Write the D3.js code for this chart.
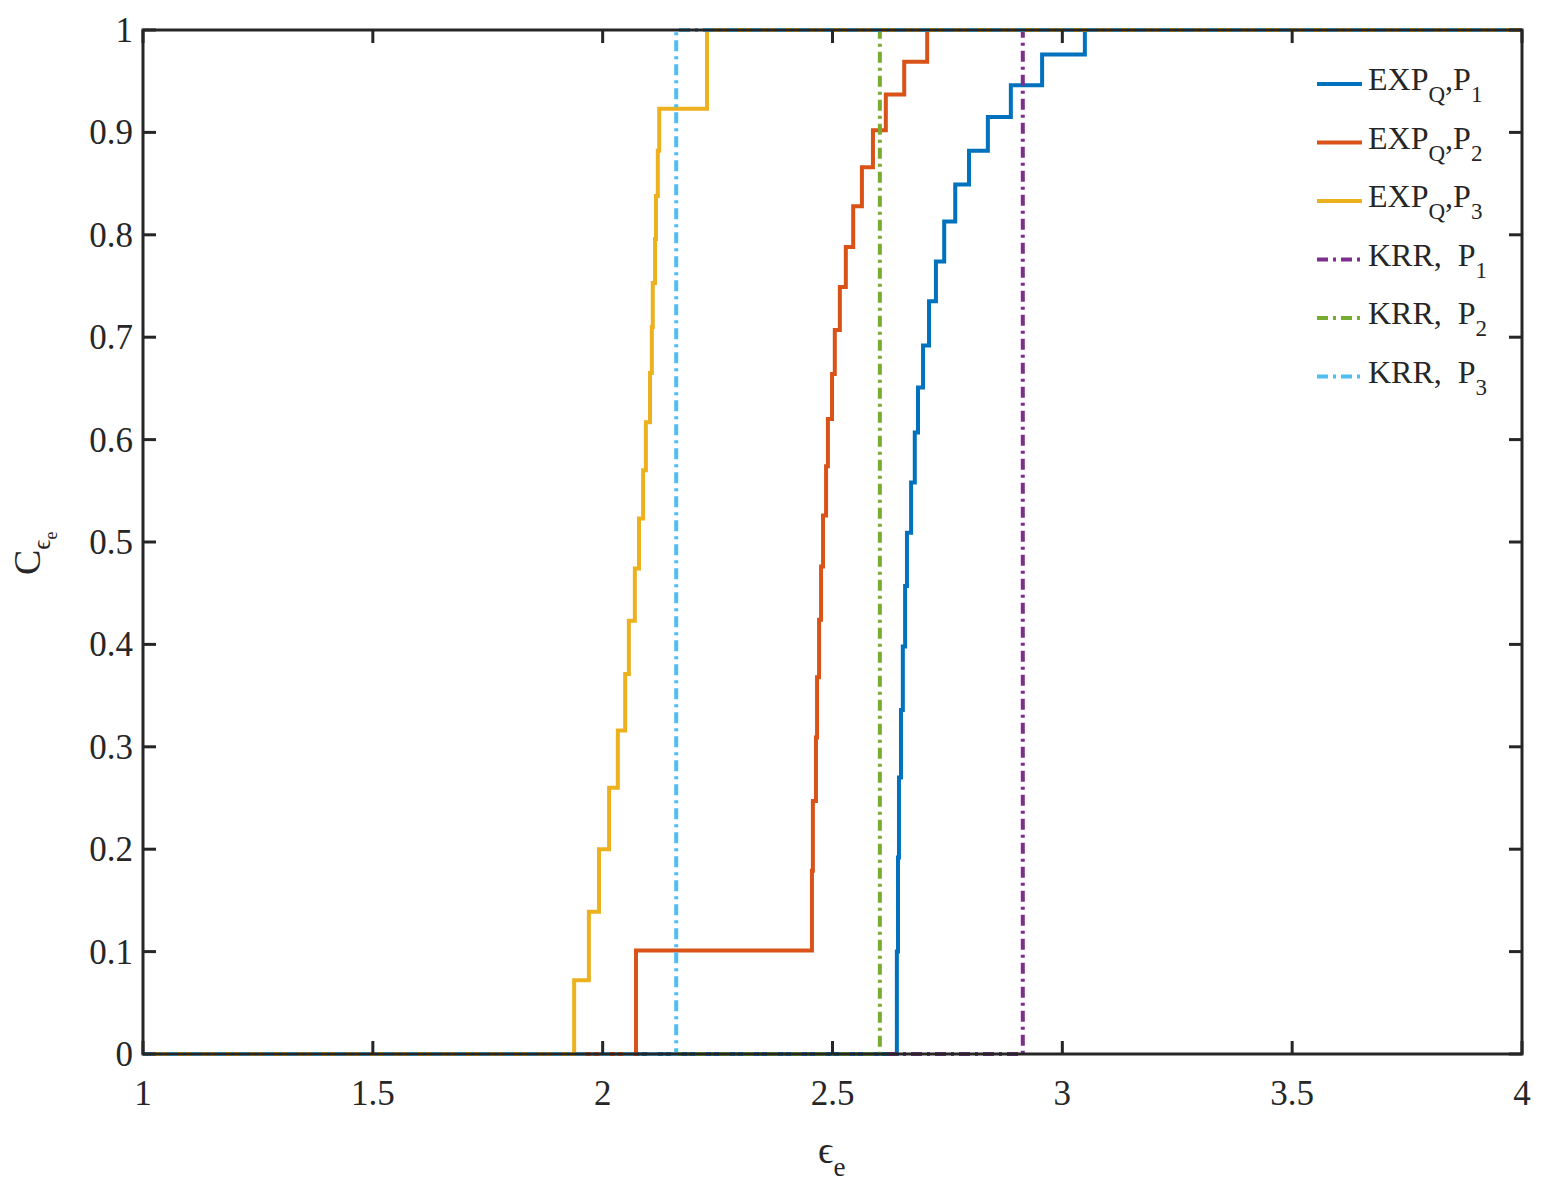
<!DOCTYPE html>
<html><head><meta charset="utf-8">
<script src="https://cdn.jsdelivr.net/npm/d3@7"></script>
<style>body{margin:0;background:#fff}</style>
</head><body><svg id="c" width="1554" height="1203" font-family="'Times New Roman', 'Liberation Serif', Times, serif"></svg>
<script>
const xTicks=[1,1.5,2,2.5,3,3.5,4];
const yTicks=[0,0.1,0.2,0.3,0.4,0.5,0.6,0.7,0.8,0.9,1];
const p1X=[2.640,2.6425,2.6446,2.649,2.653,2.658,2.662,2.671,2.679,2.686,2.697,2.710,2.725,2.743,2.767,2.797,2.838,2.888,2.956,3.049];
const p1Y=[0.1,0.192,0.270,0.336,0.398,0.457,0.509,0.558,0.607,0.651,0.692,0.735,0.774,0.813,0.849,0.882,0.915,0.946,0.976,1];
const p2X=[2.0725,2.4553,2.4573,2.464,2.4664,2.4708,2.4751,2.4794,2.486,2.490,2.499,2.505,2.516,2.529,2.545,2.564,2.588,2.616,2.656,2.706];
const p2Y=[0.101,0.179,0.247,0.309,0.368,0.424,0.476,0.526,0.574,0.620,0.664,0.707,0.749,0.788,0.828,0.866,0.902,0.937,0.969,1];
const p3X=[1.938,1.970,1.992,2.014,2.033,2.049,2.057,2.070,2.079,2.088,2.094,2.103,2.107,2.109,2.114,2.116,2.120,2.123,2.227];
const p3Y=[0.072,0.139,0.2,0.26,0.316,0.371,0.423,0.474,0.523,0.57,0.617,0.665,0.71,0.753,0.796,0.838,0.882,0.923,1];
const krrX=[2.914,2.603,2.160];
const names=["EXP","EXP","EXP","KRR,\u00a0\u00a0P","KRR,\u00a0\u00a0P","KRR,\u00a0\u00a0P"];
const colors=["#0072BD","#D95319","#EDB120","#7E2F8E","#77AC30","#4DBEEE"];

const svg=d3.select("#c");
const L=143,R=1522,T=30,B=1054;
const x=d3.scaleLinear().domain([1,4]).range([L,R]);
const y=d3.scaleLinear().domain([0,1]).range([B,T]);
const line=d3.line().x(d=>x(d[0])).y(d=>y(d[1])).curve(d3.curveStepAfter);
function pts(xs,ys){const a=[[1,0]];xs.forEach((v,i)=>a.push([v,ys[i]]));a.push([4,1]);return a;}
const series=[pts(p1X,p1Y),pts(p2X,p2Y),pts(p3X,p3Y)];
krrX.forEach(v=>series.push([[1,0],[v,1],[4,1]]));
const g=svg.append("g");
series.forEach((s,i)=>{
  g.append("path").attr("d",line(s)).attr("fill","none").attr("stroke",colors[i]).attr("stroke-width",4)
   .attr("stroke-dasharray",i>=3?"11,5,3,5":null);
});
svg.append("rect").attr("x",L).attr("y",T).attr("width",R-L).attr("height",B-T).attr("fill","none").attr("stroke","#262626").attr("stroke-width",3);
const ax=svg.append("g").attr("fill","#262626");
xTicks.forEach(t=>{
  ax.append("line").attr("x1",x(t)).attr("x2",x(t)).attr("y1",B).attr("y2",B-13).attr("stroke","#262626").attr("stroke-width",3);
  ax.append("line").attr("x1",x(t)).attr("x2",x(t)).attr("y1",T).attr("y2",T+13).attr("stroke","#262626").attr("stroke-width",3);
  ax.append("text").attr("x",x(t)).attr("y",B+51).attr("text-anchor","middle").attr("font-size",35).text(t);
});
yTicks.forEach(t=>{
  ax.append("line").attr("x1",L).attr("x2",L+13).attr("y1",y(t)).attr("y2",y(t)).attr("stroke","#262626").attr("stroke-width",3);
  ax.append("line").attr("x1",R).attr("x2",R-13).attr("y1",y(t)).attr("y2",y(t)).attr("stroke","#262626").attr("stroke-width",3);
  ax.append("text").attr("x",L-10).attr("y",y(t)+12).attr("text-anchor","end").attr("font-size",35).text(t);
});
const xl=svg.append("text").attr("x",818).attr("y",1163).attr("font-size",38).attr("fill","#262626");
xl.append("tspan").text("ϵ");
xl.append("tspan").attr("dy",13).attr("font-size",27).text("e");
const yl=svg.append("text").attr("transform","translate(40,575) rotate(-90)").attr("font-size",38).attr("fill","#262626");
yl.append("tspan").text("C");
yl.append("tspan").attr("dy",10).attr("font-size",25).text("ϵ");
yl.append("tspan").attr("dy",7).attr("font-size",18).text("e");
const lg=svg.append("g").attr("fill","#262626");
[0,1,2,3,4,5].forEach(i=>{
  const yy=84+i*58.5;
  lg.append("line").attr("x1",1317).attr("x2",1362).attr("y1",yy).attr("y2",yy).attr("stroke",colors[i]).attr("stroke-width",4)
    .attr("stroke-dasharray",i>=3?"11,5,3,5":null);
  const t=lg.append("text").attr("x",1368).attr("y",yy+6).attr("font-size",32);
  t.append("tspan").text(names[i]);
  if(i<3){t.append("tspan").attr("dy",12).attr("font-size",23).text("Q");
    t.append("tspan").attr("dy",-12).text(",P");}
  t.append("tspan").attr("dy",12).attr("font-size",23).text(String(i%3+1));
});
</script></body></html>
